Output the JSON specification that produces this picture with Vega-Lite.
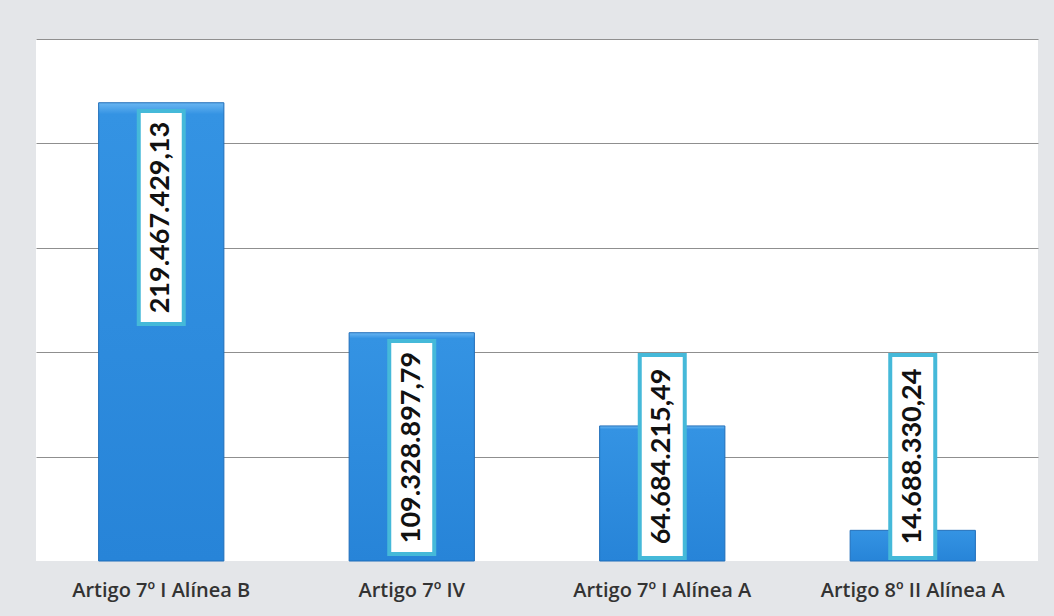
{
  "$schema": "https://vega.github.io/schema/vega-lite/v6.json",
  "width": 1002,
  "height": 522,
  "autosize": "none",
  "padding": {"left": 36, "top": 39, "right": 16, "bottom": 55},
  "background": "#e4e6e9",
  "view": {"fill": "#ffffff", "stroke": null},
  "data": {
    "values": [
      {"artigo": "Artigo 7º I Alínea B", "valor": 219467429.13, "rotulo": "219.467.429,13"},
      {"artigo": "Artigo 7º IV", "valor": 109328897.79, "rotulo": "109.328.897,79"},
      {"artigo": "Artigo 7º I Alínea A", "valor": 64684215.49, "rotulo": "64.684.215,49"},
      {"artigo": "Artigo 8º II Alínea A", "valor": 14688330.24, "rotulo": "14.688.330,24"}
    ]
  },
  "transform": [
    {"calculate": "datum.valor > 100000000 ? datum.valor - 4000000 : 98700000", "as": "caixaTopo"},
    {"calculate": "max(datum.caixaTopo - 102000000, 1400000)", "as": "caixaBase"},
    {"calculate": "(datum.caixaTopo + datum.caixaBase) / 2", "as": "textoY"}
  ],
  "resolve": {"axis": {"y": "independent"}},
  "encoding": {
    "x": {
      "field": "artigo",
      "type": "nominal",
      "sort": null,
      "scale": {"paddingInner": 0.5, "paddingOuter": 0.25},
      "axis": {
        "title": null,
        "labelAngle": 0,
        "labelFont": "Open Sans",
        "labelFontSize": 20,
        "labelFontWeight": 600,
        "labelColor": "#333333",
        "labelPadding": 19,
        "labelLimit": 400,
        "labelOverlap": false,
        "ticks": false,
        "domain": false,
        "grid": false
      }
    }
  },
  "layer": [
    {
      "mark": {
        "type": "bar",
        "stroke": "#1f6db9",
        "strokeWidth": 1,
        "color": {
          "gradient": "linear",
          "x1": 0, "y1": 0, "x2": 0, "y2": 1,
          "stops": [
            {"offset": 0, "color": "#6ab6f2"},
            {"offset": 0.025, "color": "#3493e3"},
            {"offset": 1, "color": "#2784d8"}
          ]
        }
      },
      "encoding": {
        "y": {
          "field": "valor",
          "type": "quantitative",
          "scale": {"domain": [0, 250000000], "nice": false, "zero": true},
          "axis": {
            "title": null,
            "labels": false,
            "ticks": false,
            "domain": false,
            "values": [50000000, 100000000, 150000000, 200000000, 250000000],
            "grid": true,
            "gridColor": "#8f8f8f",
            "gridWidth": 1
          }
        }
      }
    },
    {
      "mark": {
        "type": "bar",
        "size": 45,
        "fill": "#ffffff",
        "stroke": "#45b9d9",
        "strokeWidth": 4
      },
      "encoding": {
        "y": {"field": "caixaTopo", "type": "quantitative", "axis": null},
        "y2": {"field": "caixaBase"}
      }
    },
    {
      "mark": {
        "type": "text",
        "angle": 270,
        "align": "center",
        "baseline": "middle",
        "font": "Lato",
        "fontSize": 27,
        "fontWeight": "bold",
        "color": "#111111"
      },
      "encoding": {
        "y": {"field": "textoY", "type": "quantitative", "axis": null},
        "text": {"field": "rotulo", "type": "nominal"}
      }
    }
  ]
}
